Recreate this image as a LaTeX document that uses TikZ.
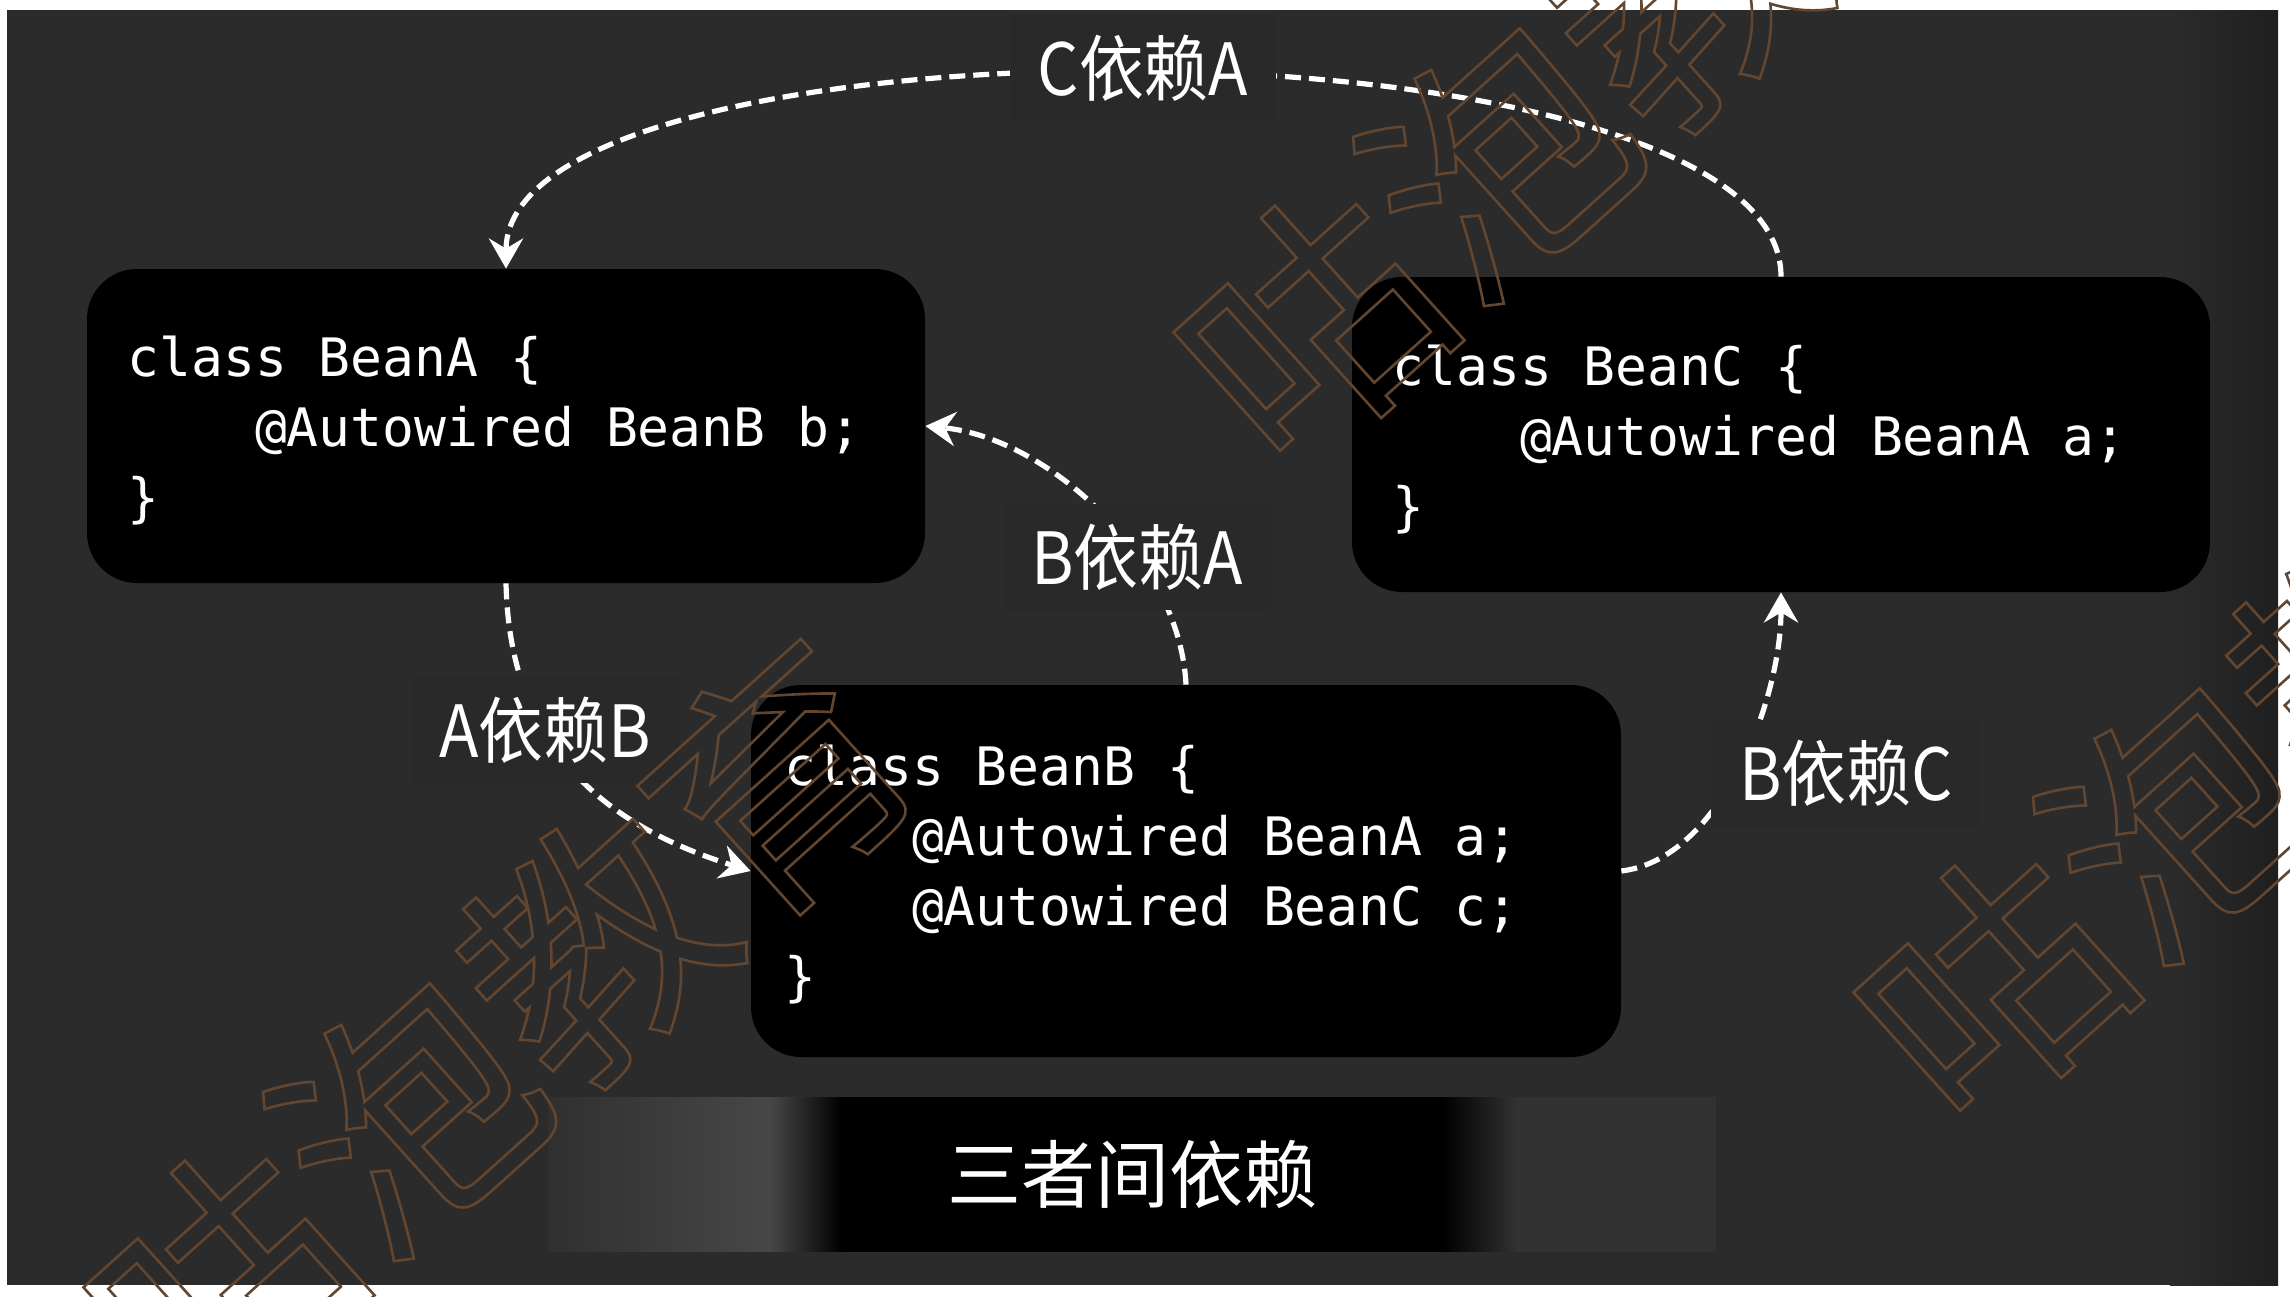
\documentclass[tikz,border=0pt]{standalone}
\usepackage{fontspec}
\setmainfont{Liberation Sans}
\newfontfamily\codefont{DejaVu Sans Mono}
\newfontfamily\lblfont[FakeStretch=0.9]{Noto Sans CJK SC}
\newfontfamily\cjkfont{Noto Sans CJK SC}
\usetikzlibrary{arrows.meta}
\definecolor{bgc}{HTML}{2B2B2B}
\definecolor{bgdark}{HTML}{1F1F1F}
\definecolor{lblbg}{HTML}{292929}
\definecolor{wmc}{HTML}{634630}
\definecolor{bandzero}{HTML}{303030}
\definecolor{bandlite}{HTML}{474747}
\definecolor{bandend}{HTML}{323232}
\pgfdeclarehorizontalshading{bannershade}{100bp}{color(0bp)=(bandzero); color(25bp)=(bandzero); color(34.5bp)=(bandlite); color(37.6bp)=(black); color(63.3bp)=(black); color(66.5bp)=(bandend); color(75bp)=(bandend); color(100bp)=(bandend)}
\newcommand\wmstroke[1]{\special{pdf:literal direct 1 Tr 1.3 w}#1\special{pdf:literal direct 0 Tr}}
\begin{document}
\begin{tikzpicture}[x=0.5pt,y=-0.5pt,
  codebox/.style={rounded corners=25pt, fill=black, inner sep=0pt},
  codetxt/.style={anchor=base west, inner sep=0pt, text=white, font=\codefont\fontsize{26.5pt}{35pt}\selectfont},
  deplabel/.style={fill=lblbg, text=white, inner xsep=14pt, inner ysep=10pt, font=\lblfont\fontsize{36pt}{40pt}\selectfont},
  dep/.style={white, line width=2.6pt, dash pattern=on 8pt off 4pt, -{Stealth[length=15pt,width=17pt,inset=5pt]}},
  wm/.style={text=wmc, font=\cjkfont\fontsize{125pt}{130pt}\selectfont, rotate=42, inner sep=0pt}]
\useasboundingbox (0,0) rectangle (2290,1296);
\clip (0,0) rectangle (2290,1296);
\fill[white] (0,0) rectangle (2290,1296);
\fill[bgc] (7,10) rectangle (2278,1285);
\fill[left color=bgc, right color=bgdark] (2170,10) rectangle (2278,1285);

% boxes
\node[codebox, minimum width=419pt, minimum height=157pt] (A) at (506,426) {};
\node[codebox, minimum width=435pt, minimum height=186pt] (B) at (1186,871) {};
\node[codebox, minimum width=429pt, minimum height=157.5pt] (C) at (1781,434.5) {};

% connectors
\draw[dep] (C.north) .. controls +(0,-270) and +(0,-262) .. (A.north);
\draw[dep] (A.south) .. controls +(4,177) and +(-131,-41) .. (B.west);
\draw[dep] (B.north) .. controls +(-6,-125) and +(123,12) .. (A.east);
\draw[dep] (B.east) .. controls +(99,-12) and +(0,108) .. (C.south);

% labels
\node[deplabel] (lCA) at (1143,68) {C依赖A};
\node[deplabel] (lBA) at (1137,557) {B依赖A};
\node[deplabel] (lAB) at (545,730) {A依赖B};
\node[deplabel] (lBC) at (1846,773) {B依赖C};

% code
\node[codetxt] (codeA) at (127,376) {\vtop{\baselineskip=35pt\hbox{class BeanA \{}\hbox{\phantom{0000}@Autowired BeanB b;}\hbox{\}}}};
\node[codetxt] (codeB) at (784,785) {\vtop{\baselineskip=35pt\hbox{class BeanB \{}\hbox{\phantom{0000}@Autowired BeanA a;}\hbox{\phantom{0000}@Autowired BeanC c;}\hbox{\}}}};
\node[codetxt] (codeC) at (1392,385) {\vtop{\baselineskip=35pt\hbox{class BeanC \{}\hbox{\phantom{0000}@Autowired BeanA a;}\hbox{\}}}};

% banner
\node[shade, shading=bannershade, minimum width=584pt, minimum height=77pt, inner sep=0pt, text=white, font=\cjkfont\fontsize{37pt}{40pt}\selectfont] (banner) at (1132,1174) {三者间依赖};

% watermark
\node[wm] (wm1) at (1590,75) {\wmstroke{咕泡教育}};
\node[wm] (wm2) at (500,1030) {\wmstroke{咕泡教育}};
\node[wm] (wm3) at (2270,735) {\wmstroke{咕泡教育}};
\end{tikzpicture}
\end{document}
